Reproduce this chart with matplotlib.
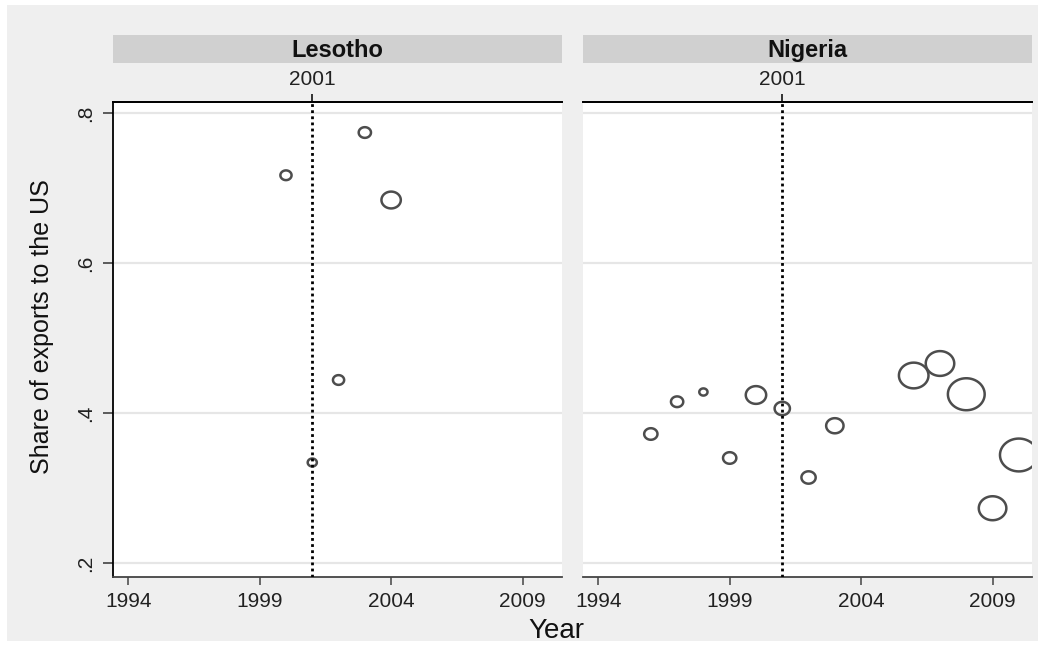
import numpy as np
import matplotlib.pyplot as plt
from matplotlib.path import Path
from matplotlib.patches import Rectangle

plt.rcParams['font.family'] = ['Liberation Sans', 'DejaVu Sans']

# --- data ---
lesotho_year = [2000, 2001, 2002, 2003, 2004]
lesotho_share = [0.717, 0.334, 0.444, 0.774, 0.684]
lesotho_weight = [1.2, 0.8, 1.2, 1.45, 3.6]

nigeria_year = [1996, 1997, 1998, 1999, 2000, 2001, 2002, 2003, 2006, 2007, 2008, 2009, 2010]
nigeria_share = [0.372, 0.415, 0.428, 0.340, 0.424, 0.406, 0.314, 0.383,
                 0.450, 0.466, 0.425, 0.273, 0.344]
nigeria_weight = [1.7, 1.45, 0.65, 1.7, 4.0, 2.25, 1.95, 2.9, 8.4, 7.8, 13.0, 7.3, 13.7]

countries = ["Lesotho", "Nigeria"]
event_year = 2001
x_ticks = [1994, 1999, 2004, 2009]
y_ticks = [0.2, 0.4, 0.6, 0.8]
y_ticklabels = [".2", ".4", ".6", ".8"]

BG = "#efefef"
STRIP = "#d0d0d0"
GRID = "#e6e6e6"
EDGE = "#4d4d4d"
TXT = "#222222"

# slightly wide hollow circle, as in the source image
t = np.linspace(0, 2 * np.pi, 60)
ell = Path(np.column_stack([1.15 * np.cos(t), np.sin(t)]), closed=True)

fig = plt.figure(figsize=(10.59, 6.46), dpi=100, facecolor="white")
fig.patches.append(Rectangle((7 / 1059, 5 / 646), 1031 / 1059, 636 / 646,
                             transform=fig.transFigure, facecolor=BG,
                             edgecolor="none", zorder=-10))

panels = [
    (113, lesotho_year, lesotho_share, lesotho_weight),
    (583, nigeria_year, nigeria_share, nigeria_weight),
]

for i, (x0, yrs, share, w) in enumerate(panels):
    ax = fig.add_axes([x0 / 1059, 69 / 646, 449 / 1059, 475 / 646])
    ax.set_facecolor("white")
    ax.set_xlim(1993.42, 2010.5)
    ax.set_ylim(0.1813, 0.8147)

    for yv in y_ticks:
        ax.axhline(yv, color=GRID, linewidth=1.6, zorder=0)

    ax.scatter(yrs, share, s=np.array(w) * 54, marker=ell,
               facecolors="none", edgecolors=EDGE, linewidths=1.8, zorder=3)
    ax.axvline(event_year, color="black", linewidth=2.0,
               linestyle=(0, (1, 1.2)), zorder=4)

    ax.spines["right"].set_visible(False)
    ax.spines["left"].set_visible(i == 0)
    for side in ["top", "bottom", "left"]:
        ax.spines[side].set_linewidth(1.3)
        ax.spines[side].set_color("black")
    ax.spines["bottom"].set_color("#444444")

    ax.set_xticks(x_ticks)
    ax.set_xticklabels([str(v) for v in x_ticks], fontsize=15, color=TXT)
    ax.tick_params(axis="x", length=6, width=1.1, color="#444444", pad=5)
    if i == 0:
        ax.set_yticks(y_ticks)
        ax.set_yticklabels(y_ticklabels, fontsize=15, color=TXT,
                           rotation=90, va="center")
        ax.tick_params(axis="y", length=7, width=1.1, color="#333333", pad=6)
    else:
        ax.set_yticks([])

    top = ax.secondary_xaxis("top")
    top.set_xticks([event_year])
    top.set_xticklabels([str(event_year)], fontsize=15, color=TXT)
    top.tick_params(length=6, width=1.1, color="black", pad=3)
    top.spines["top"].set_linewidth(1.3)

    sax = fig.add_axes([x0 / 1059, 583 / 646, 449 / 1059, 28 / 646])
    sax.set_facecolor(STRIP)
    sax.set_xticks([])
    sax.set_yticks([])
    for sp in sax.spines.values():
        sp.set_visible(False)
    sax.text(0.5, 0.45, countries[i], transform=sax.transAxes, ha="center",
             va="center", fontsize=17, fontweight="bold", color="#111111")

fig.text(556 / 1059, 1 - 631 / 646, "Year", ha="center", va="center",
         fontsize=20, color="#111111")
fig.text(42 / 1059, 1 - 327 / 646, "Share of exports to the US", ha="center",
         va="center", rotation=90, fontsize=18, color="#111111")

fig.savefig("out.png", dpi=100, facecolor=fig.get_facecolor())
